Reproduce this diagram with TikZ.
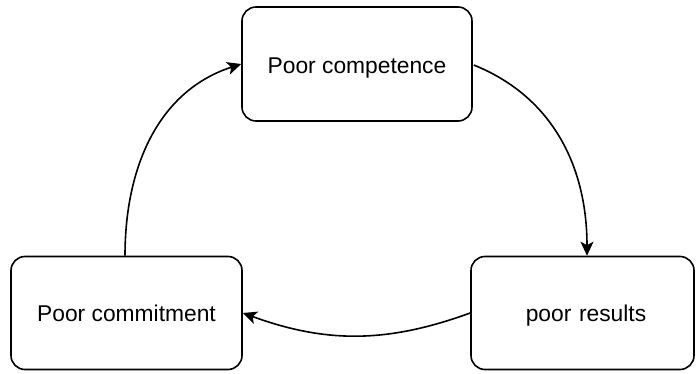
\documentclass[tikz,border=0pt]{standalone}
\usepackage{fontspec}
\setmainfont{Liberation Sans}
\usetikzlibrary{arrows.meta,calc}
\begin{document}
\begin{tikzpicture}[x=1pt,y=-1pt,
  stage/.style={draw=black, line width=1.6pt, rounded corners=14pt, fill=white,
    inner sep=0pt, text height=16pt, text depth=5pt,
    font=\fontsize{22.8}{26}\selectfont},
  flow/.style={draw=black, line width=1.6pt,
    -{Stealth[length=14pt,width=13pt,inset=3.5pt]}}]
  \useasboundingbox (0,0) rectangle (696,374);
  % the three stages of the cycle
  \node[stage, minimum width=230pt, minimum height=114pt] (comp) at (357,64) {\raisebox{-4pt}{Poor competence}};
  \node[stage, minimum width=231pt, minimum height=113pt] (commit) at (126.5,313) {\raisebox{-3pt}{Poor commitment}};
  \node[stage, minimum width=223pt, minimum height=113pt, text width=223pt, align=center] (res) at (582.5,313) {\hspace*{7pt}\raisebox{-3pt}{poor results}};
  % arrows between the stages
  \coordinate (resin) at ($(res.north)+(4.5,0)$);
  \draw[flow] ($(comp.east)+(1,1)$) to[out=-22, in=90] (resin);
  \draw[flow] (res.west) to[out=200, in=-20] (commit.east);
  \draw[flow] ($(commit.north)+(-1.5,0)$) to[out=90, in=198] (comp.west);
\end{tikzpicture}
\end{document}
